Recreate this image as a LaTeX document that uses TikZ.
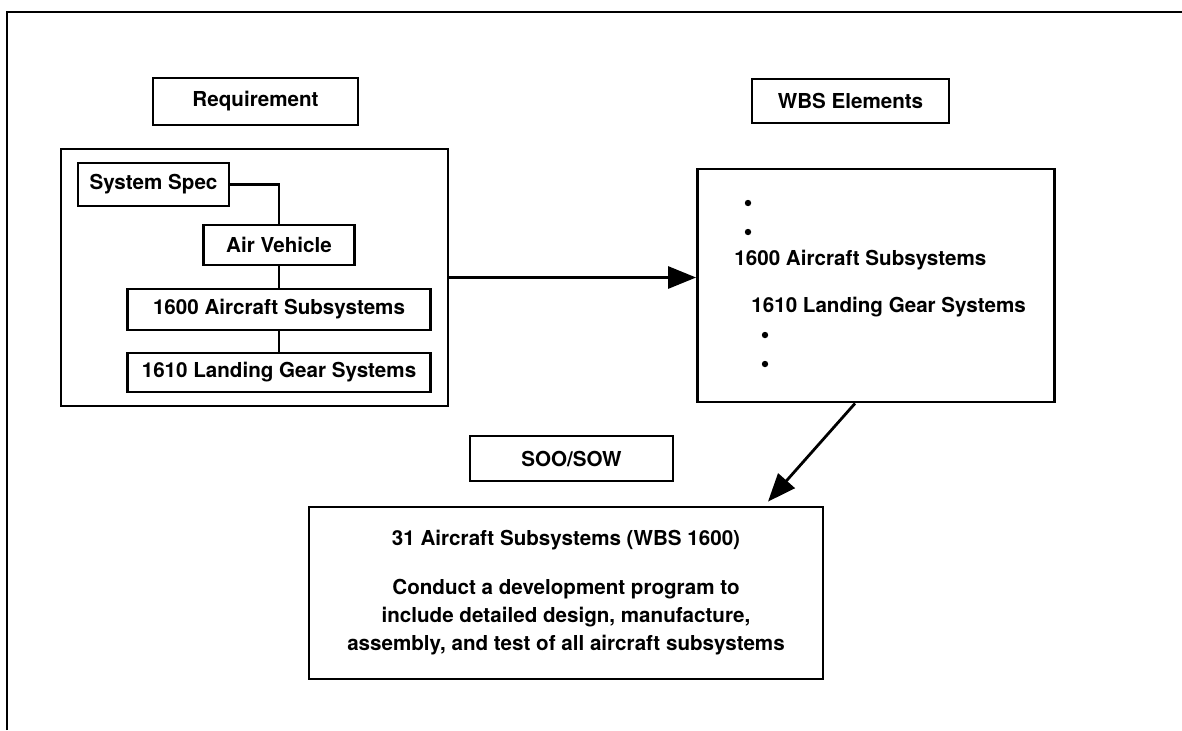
\documentclass[tikz,border=0pt]{standalone}
\usepackage{fontspec}
\setmainfont{TeX Gyre Heros}
\usetikzlibrary{arrows.meta}

\begin{document}
\begin{tikzpicture}[x=0.5pt, y=-0.5pt, line width=1.4pt,
        every node/.style={font=\fontsize{10.3}{14}\selectfont\bfseries},
        box/.style={draw, inner sep=0pt},
        dot/.style={circle, fill, inner sep=0pt, minimum size=3.2pt},
        arr/.style={-{Triangle[length=14pt,width=11pt]}}]
                \useasboundingbox (0,0) rectangle (1182,730);
                \draw (7,730) -- (7,12) -- (1182,12);
                \node[box, minimum width=102.5pt, minimum height=23.5pt] (req) at (255.5,101.5) {Requirement};
                \node[box, minimum width=98.5pt, minimum height=22pt] (wbs) at (850.5,101) {WBS Elements};
                \node[box, minimum width=193.5pt, minimum height=128.5pt] (specgrp) at (254.5,277.5) {};
                \node[box, minimum width=75.5pt, minimum height=21.5pt] (sysspec) at (153.5,184.5) {System Spec};
                \node[box, minimum width=75.5pt, minimum height=20pt] (airveh) at (279,245) {Air Vehicle};
                \node[box, minimum width=151.5pt, minimum height=20.5pt] (sub1600) at (279,309.5) {1600 Aircraft Subsystems};
                \node[box, minimum width=151.5pt, minimum height=19.5pt] (lg1610) at (279,372.5) {1610 Landing Gear Systems};
                \draw (sysspec.east) -| (airveh.north);
                \draw (airveh) -- (sub1600);
                \draw (sub1600) -- (lg1610);
                \node[box, minimum width=178.5pt, minimum height=116.5pt] (wbsbox) at (876,285.5) {};
                \node[dot] (d1) at (748,203) {};
                \node[dot] (d2) at (748,232) {};
                \node[anchor=west, inner sep=0pt] (wsub) at (733,260) {1600 Aircraft Subsystems};
                \node[anchor=west, inner sep=0pt] (wlg) at (750,307) {1610 Landing Gear Systems};
                \node[dot] (d3) at (765,335) {};
                \node[dot] (d4) at (765,364) {};
                \node[box, minimum width=101.5pt, minimum height=22.5pt] (soo) at (571.5,458.5) {SOO/SOW};
                \node[box, minimum width=257pt, minimum height=86pt, align=center] (task) at (566,593)
                    {31 Aircraft Subsystems (WBS 1600)\\[10.5pt]
                     Conduct a development program to\\
                     include detailed design, manufacture,\\
                     assembly, and test of all aircraft subsystems};
                \draw[arr] (specgrp.east) -- (specgrp.east -| wbsbox.west);
                \draw[arr] ([xshift=-10.5pt]wbsbox.south) -- ([xshift=101pt,yshift=2pt]task.north);
            \end{tikzpicture}
\end{document}
